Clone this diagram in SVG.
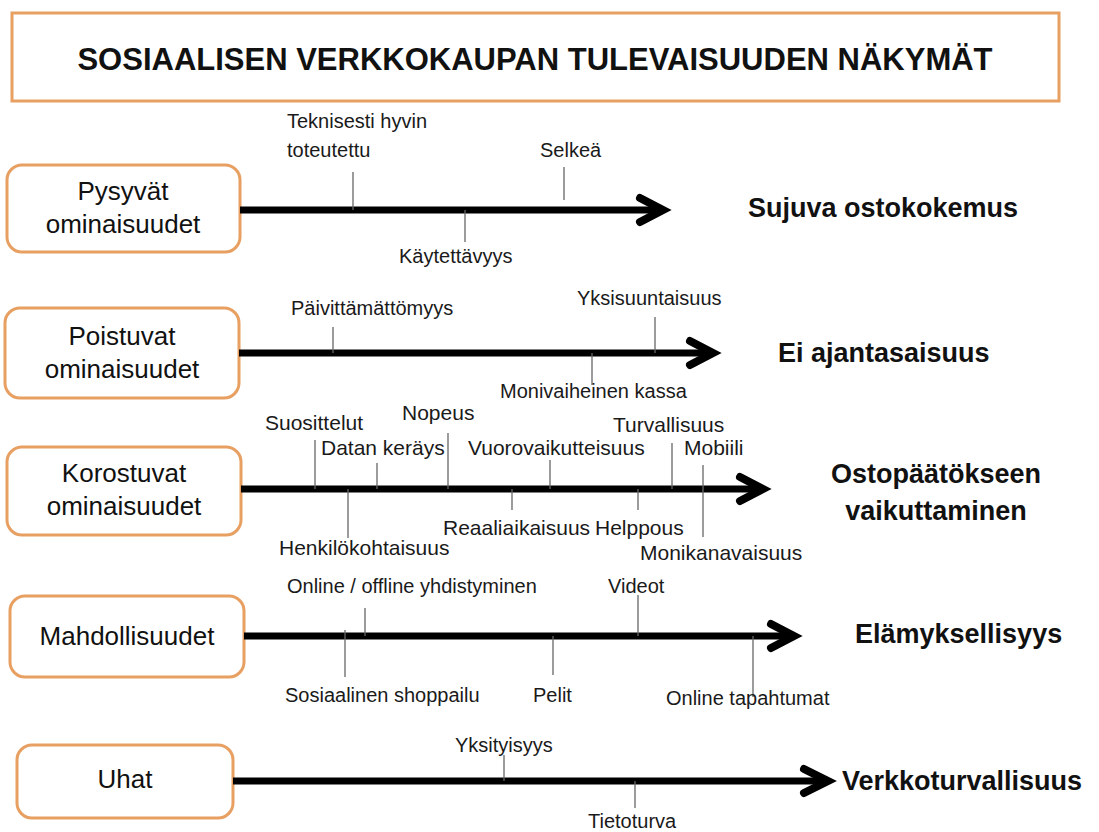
<svg xmlns="http://www.w3.org/2000/svg" width="1099" height="832" viewBox="0 0 1099 832">
<defs>
<style>
.box{fill:#fff;stroke:#E8A062;stroke-width:3}
.bl{font-family:"Liberation Sans",Arial,sans-serif;font-size:26px;fill:#111;text-anchor:middle}
.lb{font-family:"Liberation Sans",Arial,sans-serif;font-size:20px;fill:#1a1a1a}
.lb3{font-family:"Liberation Sans",Arial,sans-serif;font-size:21px;fill:#1a1a1a}
.out{font-family:"Liberation Sans",Arial,sans-serif;font-size:27px;font-weight:bold;fill:#111}
.ax{stroke:#000;stroke-width:7;fill:none}
.hd{stroke:#000;stroke-width:8;fill:none;stroke-linecap:round;stroke-linejoin:miter}
.tk{stroke:#666;stroke-width:1.3}
</style>
</defs>
<rect width="1099" height="832" fill="#fff"/>
<g id="title">
<rect class="box" x="12" y="13" width="1047" height="88"/>
<text x="535" y="70" text-anchor="middle" font-family="Liberation Sans,Arial,sans-serif" font-size="31" font-weight="bold" fill="#111">SOSIAALISEN VERKKOKAUPAN TULEVAISUUDEN NÄKYMÄT</text>
</g>
<g id="node-pysyvat">
<rect class="box" x="7" y="165" width="233" height="87" rx="15"/>
<text class="bl" x="123" y="200">Pysyvät</text>
<text class="bl" x="123" y="233">ominaisuudet</text>
</g>
<g id="node-poistuvat">
<rect class="box" x="5" y="308" width="234" height="90" rx="15"/>
<text class="bl" x="122" y="345">Poistuvat</text>
<text class="bl" x="122" y="378">ominaisuudet</text>
</g>
<g id="node-korostuvat">
<rect class="box" x="7" y="447" width="234" height="88" rx="15"/>
<text class="bl" x="124" y="482">Korostuvat</text>
<text class="bl" x="124" y="515">ominaisuudet</text>
</g>
<g id="node-mahdollisuudet">
<rect class="box" x="10" y="596" width="234" height="81" rx="15"/>
<text class="bl" x="127" y="645">Mahdollisuudet</text>
</g>
<g id="node-uhat">
<rect class="box" x="17" y="745" width="216" height="73" rx="15"/>
<text class="bl" x="125" y="788">Uhat</text>
</g>
<g id="connectors">
<line class="ax" x1="240" y1="210" x2="660" y2="210"/>
<polyline class="hd" points="640,198 663,210 640,222"/>
<line class="ax" x1="239" y1="353" x2="710" y2="353"/>
<polyline class="hd" points="690,341 713,353 690,365"/>
<line class="ax" x1="241" y1="489" x2="760" y2="489"/>
<polyline class="hd" points="740,477 763,489 740,501"/>
<line class="ax" x1="244" y1="636" x2="791" y2="636"/>
<polyline class="hd" points="771,624 794,636 771,648"/>
<line class="ax" x1="233" y1="781" x2="825" y2="781"/>
<polyline class="hd" points="804,769 828,781 804,793"/>
</g>
<g id="ticks">
<line class="tk" x1="353" y1="172" x2="353" y2="210"/>
<line class="tk" x1="465" y1="210" x2="465" y2="242"/>
<line class="tk" x1="564" y1="167" x2="564" y2="200"/>
<line class="tk" x1="333" y1="327" x2="333" y2="353"/>
<line class="tk" x1="592" y1="353" x2="592" y2="385"/>
<line class="tk" x1="655" y1="317" x2="655" y2="353"/>
<line class="tk" x1="315" y1="440" x2="315" y2="489"/>
<line class="tk" x1="377" y1="463" x2="377" y2="489"/>
<line class="tk" x1="448" y1="433" x2="448" y2="489"/>
<line class="tk" x1="550" y1="460" x2="550" y2="489"/>
<line class="tk" x1="672" y1="443" x2="672" y2="489"/>
<line class="tk" x1="703" y1="465" x2="703" y2="537"/>
<line class="tk" x1="348" y1="489" x2="348" y2="538"/>
<line class="tk" x1="512" y1="489" x2="512" y2="510"/>
<line class="tk" x1="638" y1="489" x2="638" y2="510"/>
<line class="tk" x1="365" y1="608" x2="365" y2="636"/>
<line class="tk" x1="638" y1="595" x2="638" y2="636"/>
<line class="tk" x1="345" y1="630" x2="345" y2="677"/>
<line class="tk" x1="553" y1="636" x2="553" y2="675"/>
<line class="tk" x1="753" y1="636" x2="753" y2="697"/>
<line class="tk" x1="504" y1="755" x2="504" y2="781"/>
<line class="tk" x1="635" y1="781" x2="635" y2="808"/>
</g>
<g id="labels">
<text class="lb" x="287" y="128">Teknisesti hyvin</text>
<text class="lb" x="287" y="157">toteutettu</text>
<text class="lb" x="540" y="157">Selkeä</text>
<text class="lb" x="399" y="263">Käytettävyys</text>
<text class="lb" x="291" y="315">Päivittämättömyys</text>
<text class="lb" x="577" y="305">Yksisuuntaisuus</text>
<text class="lb" x="500" y="398">Monivaiheinen  kassa</text>
<text class="lb3" x="265" y="430">Suosittelut</text>
<text class="lb3" x="402" y="420">Nopeus</text>
<text class="lb3" x="321" y="455">Datan keräys</text>
<text class="lb3" x="468" y="455">Vuorovaikutteisuus</text>
<text class="lb3" x="613" y="432">Turvallisuus</text>
<text class="lb3" x="684" y="455">Mobiili</text>
<text class="lb3" x="279" y="555">Henkilökohtaisuus</text>
<text class="lb3" x="443" y="535">Reaaliaikaisuus</text>
<text class="lb3" x="595" y="535">Helppous</text>
<text class="lb3" x="640" y="560">Monikanavaisuus</text>
<text class="lb" x="287" y="593">Online  / offline yhdistyminen</text>
<text class="lb" x="608" y="593">Videot</text>
<text class="lb" x="285" y="702">Sosiaalinen shoppailu</text>
<text class="lb" x="533" y="702">Pelit</text>
<text class="lb" x="666" y="705">Online tapahtumat</text>
<text class="lb" x="455" y="752">Yksityisyys</text>
<text class="lb" x="588" y="828">Tietoturva</text>
</g>
<g id="outcomes">
<text class="out" x="748" y="217">Sujuva ostokokemus</text>
<text class="out" x="778" y="362">Ei ajantasaisuus</text>
<text class="out" x="936" y="483" text-anchor="middle">Ostopäätökseen</text>
<text class="out" x="936" y="520" text-anchor="middle">vaikuttaminen</text>
<text class="out" x="855" y="643">Elämyksellisyys</text>
<text class="out" x="842" y="790">Verkkoturvallisuus</text>
</g>
</svg>
